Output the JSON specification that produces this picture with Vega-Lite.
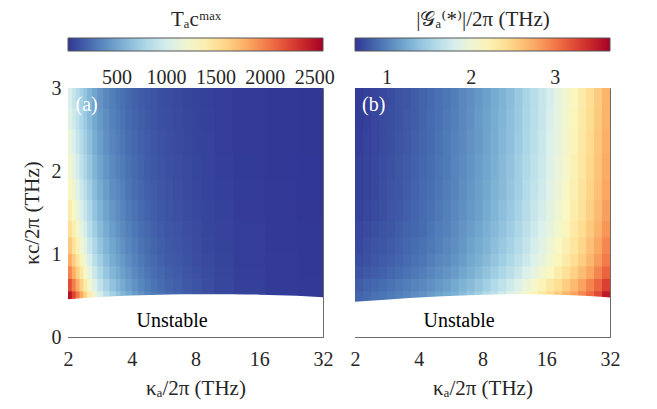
{
  "$schema": "https://vega.github.io/schema/vega-lite/v6.json",
  "padding": {"left": 21, "top": 9, "right": 5, "bottom": 5},
  "background": "white",
  "config": {
    "view": {"stroke": null},
    "font": "Liberation Serif, DejaVu Serif, serif",
    "text": {"font": "Liberation Serif, DejaVu Serif, serif"},
    "concat": {"spacing": 15},
    "axis": {"grid": false, "zindex": 1, "domainColor": "#6b6b6b", "tickColor": "#6b6b6b", "labelColor": "#262626", "titleColor": "#262626", "labelFontSize": 20, "titleFontSize": 21, "titleFontWeight": "normal", "labelFlush": false, "labelFont": "Liberation Serif, DejaVu Serif, serif", "titleFont": "Liberation Serif, DejaVu Serif, serif"},
    "legend": {"orient": "top", "direction": "horizontal", "gradientLength": 255, "gradientThickness": 13, "titleAnchor": "middle", "titleFontSize": 21, "titleFontWeight": "normal", "titleFont": "Liberation Serif, DejaVu Serif, serif", "labelFont": "Liberation Serif, DejaVu Serif, serif", "labelFontSize": 20, "labelColor": "#262626", "titleColor": "#262626", "labelOverlap": false, "padding": 0, "offset": 0, "gradientStrokeColor": "#555555", "gradientStrokeWidth": 1, "titlePadding": 8}
  },
  "datasets": {
    "rows": [
      {"r": "r0", "y": 0.4, "y2": 0.55},
      {"r": "r1", "y": 0.55, "y2": 0.7},
      {"r": "r2", "y": 0.7, "y2": 0.85},
      {"r": "r3", "y": 0.85, "y2": 1.0},
      {"r": "r4", "y": 1.0, "y2": 1.2},
      {"r": "r5", "y": 1.2, "y2": 1.4},
      {"r": "r6", "y": 1.4, "y2": 1.65},
      {"r": "r7", "y": 1.65, "y2": 1.9},
      {"r": "r8", "y": 1.9, "y2": 2.2},
      {"r": "r9", "y": 2.2, "y2": 2.5},
      {"r": "r10", "y": 2.5, "y2": 2.75},
      {"r": "r11", "y": 2.75, "y2": 3.0}
    ],
    "a": [
      {"x": 2, "x2": 2.085, "r0": 2483, "r1": 2203, "r2": 1979, "r3": 1811, "r4": 1661, "r5": 1528, "r6": 1411, "r7": 1307, "r8": 1217, "r9": 1136, "r10": 1075, "r11": 1028},
      {"x": 2.085, "x2": 2.173, "r0": 2249, "r1": 1996, "r2": 1792, "r3": 1640, "r4": 1504, "r5": 1384, "r6": 1278, "r7": 1184, "r8": 1102, "r9": 1029, "r10": 974, "r11": 931},
      {"x": 2.173, "x2": 2.266, "r0": 2028, "r1": 1799, "r2": 1616, "r3": 1479, "r4": 1356, "r5": 1248, "r6": 1152, "r7": 1068, "r8": 994, "r9": 928, "r10": 878, "r11": 839},
      {"x": 2.266, "x2": 2.362, "r0": 1812, "r1": 1608, "r2": 1444, "r3": 1322, "r4": 1212, "r5": 1115, "r6": 1029, "r7": 954, "r8": 888, "r9": 829, "r10": 785, "r11": 750},
      {"x": 2.362, "x2": 2.462, "r0": 1612, "r1": 1430, "r2": 1285, "r3": 1176, "r4": 1078, "r5": 992, "r6": 916, "r7": 849, "r8": 790, "r9": 738, "r10": 698, "r11": 667},
      {"x": 2.462, "x2": 2.603, "r0": 1394, "r1": 1237, "r2": 1111, "r3": 1016, "r4": 932, "r5": 858, "r6": 792, "r7": 734, "r8": 683, "r9": 638, "r10": 604, "r11": 577},
      {"x": 2.603, "x2": 2.751, "r0": 1180, "r1": 1047, "r2": 941, "r3": 861, "r4": 790, "r5": 726, "r6": 671, "r7": 622, "r8": 578, "r9": 540, "r10": 511, "r11": 489},
      {"x": 2.751, "x2": 2.928, "r0": 1006, "r1": 893, "r2": 802, "r3": 734, "r4": 673, "r5": 619, "r6": 572, "r7": 530, "r8": 493, "r9": 461, "r10": 436, "r11": 416},
      {"x": 2.928, "x2": 3.138, "r0": 858, "r1": 761, "r2": 684, "r3": 626, "r4": 574, "r5": 528, "r6": 487, "r7": 452, "r8": 420, "r9": 393, "r10": 372, "r11": 355},
      {"x": 3.138, "x2": 3.364, "r0": 741, "r1": 657, "r2": 591, "r3": 540, "r4": 496, "r5": 456, "r6": 421, "r7": 390, "r8": 363, "r9": 339, "r10": 321, "r11": 307},
      {"x": 3.364, "x2": 3.531, "r0": 663, "r1": 588, "r2": 528, "r3": 483, "r4": 443, "r5": 408, "r6": 377, "r7": 349, "r8": 325, "r9": 303, "r10": 287, "r11": 274},
      {"x": 3.531, "x2": 3.732, "r0": 595, "r1": 528, "r2": 474, "r3": 434, "r4": 398, "r5": 366, "r6": 338, "r7": 314, "r8": 292, "r9": 273, "r10": 258, "r11": 246},
      {"x": 3.732, "x2": 4, "r0": 520, "r1": 461, "r2": 414, "r3": 379, "r4": 348, "r5": 320, "r6": 295, "r7": 274, "r8": 255, "r9": 238, "r10": 225, "r11": 215},
      {"x": 4, "x2": 4.287, "r0": 452, "r1": 401, "r2": 361, "r3": 330, "r4": 303, "r5": 278, "r6": 257, "r7": 238, "r8": 222, "r9": 207, "r10": 196, "r11": 187},
      {"x": 4.287, "x2": 4.595, "r0": 393, "r1": 348, "r2": 313, "r3": 286, "r4": 263, "r5": 242, "r6": 223, "r7": 207, "r8": 192, "r9": 180, "r10": 170, "r11": 162},
      {"x": 4.595, "x2": 4.925, "r0": 341, "r1": 302, "r2": 271, "r3": 248, "r4": 228, "r5": 210, "r6": 193, "r7": 179, "r8": 167, "r9": 156, "r10": 148, "r11": 141},
      {"x": 4.925, "x2": 5.278, "r0": 296, "r1": 263, "r2": 236, "r3": 216, "r4": 198, "r5": 182, "r6": 168, "r7": 156, "r8": 145, "r9": 136, "r10": 128, "r11": 123},
      {"x": 5.278, "x2": 5.736, "r0": 257, "r1": 228, "r2": 205, "r3": 188, "r4": 172, "r5": 158, "r6": 146, "r7": 136, "r8": 126, "r9": 118, "r10": 111, "r11": 107},
      {"x": 5.736, "x2": 6.277, "r0": 224, "r1": 198, "r2": 178, "r3": 163, "r4": 150, "r5": 138, "r6": 127, "r7": 118, "r8": 110, "r9": 102, "r10": 97, "r11": 93},
      {"x": 6.277, "x2": 6.964, "r0": 198, "r1": 175, "r2": 157, "r3": 144, "r4": 132, "r5": 122, "r6": 112, "r7": 104, "r8": 97, "r9": 90, "r10": 86, "r11": 82},
      {"x": 6.964, "x2": 7.727, "r0": 166, "r1": 148, "r2": 133, "r3": 121, "r4": 111, "r5": 102, "r6": 95, "r7": 88, "r8": 82, "r9": 76, "r10": 72, "r11": 69},
      {"x": 7.727, "x2": 8.574, "r0": 138, "r1": 122, "r2": 110, "r3": 100, "r4": 92, "r5": 85, "r6": 78, "r7": 73, "r8": 68, "r9": 63, "r10": 60, "r11": 57},
      {"x": 8.574, "x2": 9.849, "r0": 112, "r1": 99, "r2": 89, "r3": 82, "r4": 75, "r5": 69, "r6": 64, "r7": 59, "r8": 55, "r9": 51, "r10": 48, "r11": 46},
      {"x": 9.849, "x2": 12.126, "r0": 83, "r1": 74, "r2": 66, "r3": 61, "r4": 56, "r5": 51, "r6": 47, "r7": 44, "r8": 41, "r9": 38, "r10": 36, "r11": 34},
      {"x": 12.126, "x2": 17.148, "r0": 51, "r1": 45, "r2": 40, "r3": 37, "r4": 34, "r5": 31, "r6": 29, "r7": 27, "r8": 25, "r9": 23, "r10": 22, "r11": 21},
      {"x": 17.148, "x2": 24.251, "r0": 26, "r1": 23, "r2": 21, "r3": 19, "r4": 17, "r5": 16, "r6": 15, "r7": 14, "r8": 13, "r9": 12, "r10": 11, "r11": 11},
      {"x": 24.251, "x2": 32, "r0": 16, "r1": 14, "r2": 12, "r3": 11, "r4": 10, "r5": 10, "r6": 9, "r7": 8, "r8": 8, "r9": 7, "r10": 7, "r11": 6}
    ],
    "b": [
      {"x": 2, "x2": 2.181, "r0": 0.85, "r1": 0.81, "r2": 0.76, "r3": 0.73, "r4": 0.71, "r5": 0.70, "r6": 0.68, "r7": 0.67, "r8": 0.67, "r9": 0.66, "r10": 0.65, "r11": 0.65},
      {"x": 2.181, "x2": 2.378, "r0": 0.88, "r1": 0.84, "r2": 0.79, "r3": 0.75, "r4": 0.74, "r5": 0.72, "r6": 0.70, "r7": 0.69, "r8": 0.69, "r9": 0.68, "r10": 0.67, "r11": 0.67},
      {"x": 2.378, "x2": 2.594, "r0": 0.91, "r1": 0.86, "r2": 0.81, "r3": 0.78, "r4": 0.76, "r5": 0.74, "r6": 0.72, "r7": 0.71, "r8": 0.71, "r9": 0.70, "r10": 0.70, "r11": 0.69},
      {"x": 2.594, "x2": 2.828, "r0": 0.93, "r1": 0.89, "r2": 0.83, "r3": 0.80, "r4": 0.78, "r5": 0.76, "r6": 0.74, "r7": 0.74, "r8": 0.73, "r9": 0.72, "r10": 0.72, "r11": 0.71},
      {"x": 2.828, "x2": 3.084, "r0": 0.96, "r1": 0.92, "r2": 0.86, "r3": 0.82, "r4": 0.80, "r5": 0.78, "r6": 0.77, "r7": 0.76, "r8": 0.75, "r9": 0.74, "r10": 0.74, "r11": 0.73},
      {"x": 3.084, "x2": 3.364, "r0": 0.99, "r1": 0.95, "r2": 0.89, "r3": 0.85, "r4": 0.83, "r5": 0.81, "r6": 0.79, "r7": 0.78, "r8": 0.78, "r9": 0.77, "r10": 0.76, "r11": 0.76},
      {"x": 3.364, "x2": 3.668, "r0": 1.02, "r1": 0.98, "r2": 0.92, "r3": 0.88, "r4": 0.86, "r5": 0.84, "r6": 0.82, "r7": 0.81, "r8": 0.80, "r9": 0.79, "r10": 0.79, "r11": 0.78},
      {"x": 3.668, "x2": 4, "r0": 1.06, "r1": 1.01, "r2": 0.95, "r3": 0.91, "r4": 0.89, "r5": 0.86, "r6": 0.85, "r7": 0.84, "r8": 0.83, "r9": 0.82, "r10": 0.81, "r11": 0.81},
      {"x": 4, "x2": 4.362, "r0": 1.09, "r1": 1.04, "r2": 0.98, "r3": 0.94, "r4": 0.92, "r5": 0.89, "r6": 0.88, "r7": 0.87, "r8": 0.86, "r9": 0.85, "r10": 0.84, "r11": 0.84},
      {"x": 4.362, "x2": 4.757, "r0": 1.14, "r1": 1.08, "r2": 1.02, "r3": 0.98, "r4": 0.95, "r5": 0.93, "r6": 0.91, "r7": 0.90, "r8": 0.89, "r9": 0.88, "r10": 0.88, "r11": 0.87},
      {"x": 4.757, "x2": 5.187, "r0": 1.18, "r1": 1.12, "r2": 1.06, "r3": 1.02, "r4": 0.99, "r5": 0.97, "r6": 0.95, "r7": 0.94, "r8": 0.93, "r9": 0.92, "r10": 0.91, "r11": 0.91},
      {"x": 5.187, "x2": 5.657, "r0": 1.22, "r1": 1.16, "r2": 1.10, "r3": 1.05, "r4": 1.03, "r5": 1.00, "r6": 0.99, "r7": 0.97, "r8": 0.96, "r9": 0.96, "r10": 0.95, "r11": 0.94},
      {"x": 5.657, "x2": 6.169, "r0": 1.27, "r1": 1.22, "r2": 1.14, "r3": 1.10, "r4": 1.07, "r5": 1.05, "r6": 1.03, "r7": 1.01, "r8": 1.01, "r9": 1.00, "r10": 0.99, "r11": 0.98},
      {"x": 6.169, "x2": 6.727, "r0": 1.34, "r1": 1.28, "r2": 1.20, "r3": 1.15, "r4": 1.12, "r5": 1.10, "r6": 1.08, "r7": 1.06, "r8": 1.05, "r9": 1.04, "r10": 1.03, "r11": 1.03},
      {"x": 6.727, "x2": 7.336, "r0": 1.41, "r1": 1.34, "r2": 1.26, "r3": 1.21, "r4": 1.18, "r5": 1.15, "r6": 1.12, "r7": 1.11, "r8": 1.10, "r9": 1.09, "r10": 1.08, "r11": 1.07},
      {"x": 7.336, "x2": 8, "r0": 1.48, "r1": 1.40, "r2": 1.32, "r3": 1.26, "r4": 1.23, "r5": 1.20, "r6": 1.17, "r7": 1.16, "r8": 1.15, "r9": 1.13, "r10": 1.13, "r11": 1.12},
      {"x": 8, "x2": 8.724, "r0": 1.56, "r1": 1.48, "r2": 1.39, "r3": 1.33, "r4": 1.29, "r5": 1.26, "r6": 1.23, "r7": 1.21, "r8": 1.20, "r9": 1.19, "r10": 1.18, "r11": 1.17},
      {"x": 8.724, "x2": 9.514, "r0": 1.65, "r1": 1.57, "r2": 1.47, "r3": 1.40, "r4": 1.36, "r5": 1.32, "r6": 1.30, "r7": 1.28, "r8": 1.26, "r9": 1.25, "r10": 1.24, "r11": 1.23},
      {"x": 9.514, "x2": 10.375, "r0": 1.75, "r1": 1.66, "r2": 1.55, "r3": 1.47, "r4": 1.43, "r5": 1.39, "r6": 1.36, "r7": 1.34, "r8": 1.33, "r9": 1.31, "r10": 1.30, "r11": 1.29},
      {"x": 10.375, "x2": 11.314, "r0": 1.85, "r1": 1.75, "r2": 1.63, "r3": 1.55, "r4": 1.50, "r5": 1.46, "r6": 1.43, "r7": 1.41, "r8": 1.39, "r9": 1.37, "r10": 1.36, "r11": 1.35},
      {"x": 11.314, "x2": 12.338, "r0": 1.95, "r1": 1.85, "r2": 1.72, "r3": 1.64, "r4": 1.59, "r5": 1.54, "r6": 1.51, "r7": 1.48, "r8": 1.47, "r9": 1.45, "r10": 1.44, "r11": 1.43},
      {"x": 12.338, "x2": 13.454, "r0": 2.08, "r1": 1.96, "r2": 1.83, "r3": 1.74, "r4": 1.69, "r5": 1.64, "r6": 1.60, "r7": 1.58, "r8": 1.56, "r9": 1.54, "r10": 1.53, "r11": 1.52},
      {"x": 13.454, "x2": 14.672, "r0": 2.20, "r1": 2.08, "r2": 1.93, "r3": 1.84, "r4": 1.79, "r5": 1.74, "r6": 1.70, "r7": 1.67, "r8": 1.65, "r9": 1.63, "r10": 1.62, "r11": 1.61},
      {"x": 14.672, "x2": 16, "r0": 2.32, "r1": 2.19, "r2": 2.04, "r3": 1.94, "r4": 1.89, "r5": 1.83, "r6": 1.79, "r7": 1.76, "r8": 1.74, "r9": 1.72, "r10": 1.71, "r11": 1.70},
      {"x": 16, "x2": 17.448, "r0": 2.44, "r1": 2.31, "r2": 2.15, "r3": 2.05, "r4": 2.00, "r5": 1.94, "r6": 1.90, "r7": 1.87, "r8": 1.85, "r9": 1.83, "r10": 1.81, "r11": 1.80},
      {"x": 17.448, "x2": 19.027, "r0": 2.55, "r1": 2.42, "r2": 2.27, "r3": 2.17, "r4": 2.11, "r5": 2.05, "r6": 2.01, "r7": 1.98, "r8": 1.96, "r9": 1.94, "r10": 1.93, "r11": 1.92},
      {"x": 19.027, "x2": 20.749, "r0": 2.67, "r1": 2.54, "r2": 2.39, "r3": 2.29, "r4": 2.23, "r5": 2.17, "r6": 2.13, "r7": 2.10, "r8": 2.08, "r9": 2.06, "r10": 2.05, "r11": 2.04},
      {"x": 20.749, "x2": 22.627, "r0": 2.79, "r1": 2.66, "r2": 2.51, "r3": 2.41, "r4": 2.35, "r5": 2.30, "r6": 2.26, "r7": 2.23, "r8": 2.21, "r9": 2.19, "r10": 2.17, "r11": 2.16},
      {"x": 22.627, "x2": 24.675, "r0": 2.92, "r1": 2.79, "r2": 2.64, "r3": 2.54, "r4": 2.48, "r5": 2.43, "r6": 2.38, "r7": 2.36, "r8": 2.33, "r9": 2.32, "r10": 2.30, "r11": 2.29},
      {"x": 24.675, "x2": 26.909, "r0": 3.06, "r1": 2.93, "r2": 2.77, "r3": 2.67, "r4": 2.62, "r5": 2.56, "r6": 2.52, "r7": 2.49, "r8": 2.47, "r9": 2.45, "r10": 2.43, "r11": 2.42},
      {"x": 26.909, "x2": 29.344, "r0": 3.23, "r1": 3.09, "r2": 2.93, "r3": 2.82, "r4": 2.76, "r5": 2.70, "r6": 2.65, "r7": 2.62, "r8": 2.60, "r9": 2.58, "r10": 2.56, "r11": 2.55},
      {"x": 29.344, "x2": 32, "r0": 3.48, "r1": 3.28, "r2": 3.10, "r3": 2.98, "r4": 2.92, "r5": 2.85, "r6": 2.80, "r7": 2.77, "r8": 2.74, "r9": 2.72, "r10": 2.70, "r11": 2.69}
    ],
    "ba": [
      {"x": 2, "b": 0.455}, {"x": 2.5, "b": 0.472}, {"x": 3, "b": 0.485}, {"x": 4, "b": 0.5}, {"x": 6, "b": 0.512}, {"x": 8, "b": 0.516}, {"x": 12, "b": 0.516}, {"x": 16, "b": 0.51}, {"x": 24, "b": 0.497}, {"x": 32, "b": 0.48}
    ],
    "bb": [
      {"x": 2, "b": 0.425}, {"x": 3, "b": 0.455}, {"x": 4, "b": 0.475}, {"x": 6, "b": 0.497}, {"x": 8, "b": 0.508}, {"x": 12, "b": 0.515}, {"x": 16, "b": 0.512}, {"x": 24, "b": 0.498}, {"x": 32, "b": 0.475}
    ],
    "la": [{"x": 2.45, "y": 2.8, "t": "(a)"}],
    "lb": [{"x": 2.45, "y": 2.8, "t": "(b)"}],
    "un": [{"x": 6.2, "y": 0.19, "t": "Unstable"}]
  },
  "resolve": {"scale": {"color": "independent", "x": "independent", "y": "independent"}, "legend": {"color": "independent"}},
  "hconcat": [
    {
      "width": 255,
      "height": 249,
      "resolve": {"axis": {"x": "independent", "y": "independent"}},
      "layer": [
        {
          "data": {"name": "a"},
          "transform": [
            {"fold": ["r0", "r1", "r2", "r3", "r4", "r5", "r6", "r7", "r8", "r9", "r10", "r11"], "as": ["r", "v"]},
            {"lookup": "r", "from": {"data": {"name": "rows"}, "key": "r", "fields": ["y", "y2"]}}
          ],
          "mark": {"type": "rect", "x2Offset": 0.8, "y2Offset": -0.8, "clip": true},
          "encoding": {
            "x": {"field": "x", "type": "quantitative", "scale": {"type": "log", "base": 2, "domain": [2, 32], "nice": false}, "axis": {"orient": "bottom", "values": [2, 4, 8, 16, 32], "format": "d", "title": "κₐ/2π (THz)", "tickSize": -4, "labelPadding": 16, "titlePadding": 8}},
            "x2": {"field": "x2"},
            "y": {"field": "y", "type": "quantitative", "scale": {"domain": [0, 3], "nice": false, "zero": false}, "axis": {"orient": "left", "values": [0, 1, 2, 3], "format": "d", "title": "κc/2π (THz)", "tickSize": -4, "labelPadding": 11, "titlePadding": 9}},
            "y2": {"field": "y2"},
            "color": {"field": "v", "type": "quantitative", "scale": {"scheme": "redyellowblue", "reverse": true, "domain": [3, 2584], "clamp": true}, "legend": {"type": "gradient", "title": "Tₐcᵐᵃˣ", "values": [500, 1000, 1500, 2000, 2500], "format": "d", "labelOffset": 17}}
          }
        },
        {
          "data": {"name": "ba"},
          "mark": {"type": "area", "color": "white", "interpolate": "monotone"},
          "encoding": {
            "x": {"field": "x", "type": "quantitative", "scale": {"type": "log", "base": 2, "domain": [2, 32], "nice": false}, "axis": {"orient": "top", "labels": false, "ticks": false, "title": null}},
            "y": {"field": "b", "type": "quantitative", "scale": {"domain": [0, 3], "nice": false, "zero": false}, "axis": {"orient": "right", "labels": false, "ticks": false, "title": null}}
          }
        },
        {
          "data": {"name": "la"},
          "mark": {"type": "text", "color": "white", "fontSize": 20, "font": "Liberation Serif, DejaVu Serif, serif"},
          "encoding": {
            "x": {"field": "x", "type": "quantitative", "scale": {"type": "log", "base": 2, "domain": [2, 32], "nice": false}, "axis": null},
            "y": {"field": "y", "type": "quantitative", "scale": {"domain": [0, 3], "nice": false, "zero": false}, "axis": null},
            "text": {"field": "t"}
          }
        },
        {
          "data": {"name": "un"},
          "mark": {"type": "text", "color": "black", "fontSize": 20, "font": "Liberation Serif, DejaVu Serif, serif"},
          "encoding": {
            "x": {"field": "x", "type": "quantitative", "scale": {"type": "log", "base": 2, "domain": [2, 32], "nice": false}, "axis": null},
            "y": {"field": "y", "type": "quantitative", "scale": {"domain": [0, 3], "nice": false, "zero": false}, "axis": null},
            "text": {"field": "t"}
          }
        }
      ]
    },
    {
      "width": 255,
      "height": 249,
      "resolve": {"axis": {"x": "independent", "y": "independent"}},
      "layer": [
        {
          "data": {"name": "b"},
          "transform": [
            {"fold": ["r0", "r1", "r2", "r3", "r4", "r5", "r6", "r7", "r8", "r9", "r10", "r11"], "as": ["r", "v"]},
            {"lookup": "r", "from": {"data": {"name": "rows"}, "key": "r", "fields": ["y", "y2"]}}
          ],
          "mark": {"type": "rect", "x2Offset": 0.8, "y2Offset": -0.8, "clip": true},
          "encoding": {
            "x": {"field": "x", "type": "quantitative", "scale": {"type": "log", "base": 2, "domain": [2, 32], "nice": false}, "axis": {"orient": "bottom", "values": [2, 4, 8, 16, 32], "format": "d", "title": "κₐ/2π (THz)", "tickSize": -4, "labelPadding": 16, "titlePadding": 8}},
            "x2": {"field": "x2"},
            "y": {"field": "y", "type": "quantitative", "scale": {"domain": [0, 3], "nice": false, "zero": false}, "axis": {"orient": "left", "values": [0, 1, 2, 3], "labels": false, "title": null, "tickSize": -4}},
            "y2": {"field": "y2"},
            "color": {"field": "v", "type": "quantitative", "scale": {"scheme": "redyellowblue", "reverse": true, "domain": [0.62, 3.65], "clamp": true}, "legend": {"type": "gradient", "title": "|𝒢ₐ⁽*⁾|/2π (THz)", "values": [1, 2, 3], "format": "d", "labelOffset": 17}}
          }
        },
        {
          "data": {"name": "bb"},
          "mark": {"type": "area", "color": "white", "interpolate": "monotone"},
          "encoding": {
            "x": {"field": "x", "type": "quantitative", "scale": {"type": "log", "base": 2, "domain": [2, 32], "nice": false}, "axis": {"orient": "top", "labels": false, "ticks": false, "title": null}},
            "y": {"field": "b", "type": "quantitative", "scale": {"domain": [0, 3], "nice": false, "zero": false}, "axis": {"orient": "right", "labels": false, "ticks": false, "title": null}}
          }
        },
        {
          "data": {"name": "lb"},
          "mark": {"type": "text", "color": "white", "fontSize": 20, "font": "Liberation Serif, DejaVu Serif, serif"},
          "encoding": {
            "x": {"field": "x", "type": "quantitative", "scale": {"type": "log", "base": 2, "domain": [2, 32], "nice": false}, "axis": null},
            "y": {"field": "y", "type": "quantitative", "scale": {"domain": [0, 3], "nice": false, "zero": false}, "axis": null},
            "text": {"field": "t"}
          }
        },
        {
          "data": {"name": "un"},
          "mark": {"type": "text", "color": "black", "fontSize": 20, "font": "Liberation Serif, DejaVu Serif, serif"},
          "encoding": {
            "x": {"field": "x", "type": "quantitative", "scale": {"type": "log", "base": 2, "domain": [2, 32], "nice": false}, "axis": null},
            "y": {"field": "y", "type": "quantitative", "scale": {"domain": [0, 3], "nice": false, "zero": false}, "axis": null},
            "text": {"field": "t"}
          }
        }
      ]
    }
  ]
}
